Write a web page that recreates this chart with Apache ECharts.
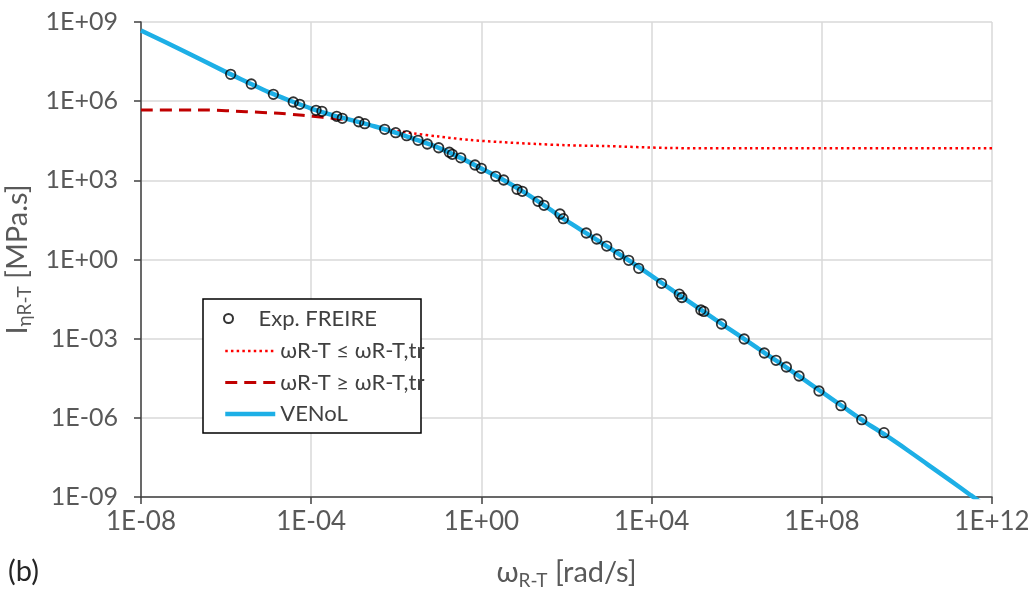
<!DOCTYPE html>
<html><head><meta charset="utf-8">
<script src="https://cdn.jsdelivr.net/npm/echarts@6/dist/echarts.min.js"></script>
<style>html,body{margin:0;padding:0;background:#fff}#c{width:1028px;height:589px}</style>
</head><body><div id="c"></div>
<script>
// Tick labels
const xTickLabels = ['1E-08','1E-04','1E+00','1E+04','1E+08','1E+12'];
const yTickLabels = ['1E-09','1E-06','1E-03','1E+00','1E+03','1E+06','1E+09'];

// Experimental points (Exp. FREIRE)
const expOmega = [1.28e-6,3.91e-6,1.29e-5,3.79e-5,5.37e-5,1.30e-4,1.79e-4,3.97e-4,5.38e-4,1.31e-3,1.81e-3,5.33e-3,9.68e-3,1.75e-2,3.24e-2,5.36e-2,9.91e-2,0.176,0.207,0.327,0.708,0.995,2.17,3.34,6.87,9.14,21.4,29.6,70.3,84.1,292,513,881,1690,2900,4980,1.71e4,4.48e4,5.15e4,1.44e5,1.69e5,4.40e5,1.50e6,4.46e6,8.39e6,1.47e7,2.92e7,8.59e7,2.82e8,8.67e8,2.90e9];
const expEta = [1.04e7,4.47e6,1.82e6,9.29e5,7.60e5,4.50e5,4.13e5,2.67e5,2.24e5,1.66e5,1.40e5,8.57e4,6.38e4,4.91e4,3.28e4,2.38e4,1.72e4,1.16e4,9.68e3,7.13e3,3.81e3,2.85e3,1.42e3,1.03e3,457,384,160,113,53.0,35.2,10.1,5.98,3.24,1.52,0.931,0.463,0.125,0.0484,0.0363,0.0122,0.0108,3.60e-3,9.70e-4,2.86e-4,1.51e-4,8.43e-5,3.85e-5,1.04e-5,2.88e-6,8.49e-7,2.74e-7];

// VENoL model curve
const venolOmega = [1e-8,1e-7,1e-6,3.16e-6,1e-5,3.16e-5,1e-4,3.16e-4,1e-3,3.16e-3,1e-2,3.16e-2,0.1,0.316,1,3.16,10,31.6,100,316,1e3,3160,1e4,3.16e4,1e5,3.16e5,1e6,3.16e6,1e7,3.16e7,1e8,3.16e8,1e9,3.16e9,1e10,3.16e10,1e11,3.16e11,1e12];
const venolEta = [4.79e8,7.94e7,1.26e7,5.25e6,2.19e6,1.05e6,5.25e5,2.95e5,1.82e5,1.10e5,6.31e4,3.31e4,1.70e4,7.24e3,2.82e3,1.07e3,355,105,29.5,9.12,2.82,0.851,0.240,0.0661,0.0186,5.25e-3,1.51e-3,4.27e-4,1.23e-4,3.47e-5,9.55e-6,2.63e-6,7.24e-7,2.19e-7,6.17e-8,1.66e-8,4.47e-9,1.17e-9,3.16e-10];

// ωR-T ≥ ωR-T,tr (dashed)
const lowOmega = [1e-8,3.39e-7,2.95e-6,1.74e-5,6.31e-5,1.86e-4,5.89e-4];
const lowEta = [4.63e5,4.63e5,4.00e5,3.47e5,2.91e5,2.44e5,2.05e5];

// ωR-T ≤ ωR-T,tr (dotted)
const highOmega = [3.16e-3,1e-2,2.51e-2,0.1,0.537,2.75,20,100,741,2.69e4,2e6,1e12];
const highEta = [1.10e5,7.59e4,6.03e4,4.57e4,3.37e4,2.83e4,2.38e4,2.14e4,2.0e4,1.68e4,1.63e4,1.63e4];

const seriesNames = ['Exp. FREIRE','ωR-T ≤ ωR-T,tr','ωR-T ≥ ωR-T,tr','VENoL'];

const zip = (a, b) => a.map((v, i) => [v, b[i]]);
const FONT = 'Lato';
const labelColor = '#595959';

const chart = echarts.init(document.getElementById('c'), null, {renderer: 'canvas'});
chart.setOption({
  backgroundColor: '#fff',
  animation: false,
  textStyle: {fontFamily: FONT},
  grid: {left: 141, right: 36, top: 22, bottom: 92, containLabel: false, outerBoundsMode: 'none'},
  xAxis: {
    type: 'log', logBase: 10000, min: 1e-8, max: 1e12,
    name: 'ω{sub|R-T} [rad/s]',
    nameLocation: 'middle', nameGap: 58,
    nameTextStyle: {color: labelColor, fontSize: 29, fontFamily: FONT,
      rich: {sub: {fontSize: 19, color: labelColor, fontFamily: FONT, padding: [16, 0, 0, 0]}}},
    axisLine: {lineStyle: {color: '#404040', width: 1.5}},
    axisTick: {show: true, length: 7, inside: false, lineStyle: {color: '#404040', width: 1.5}},
    splitLine: {show: true, lineStyle: {color: '#d9d9d9', width: 1.5}},
    minorTick: {show: false},
    axisLabel: {color: labelColor, fontSize: 26, fontFamily: FONT, margin: 12,
      formatter: v => xTickLabels[Math.round((Math.log10(v) + 8) / 4)]}
  },
  yAxis: {
    type: 'log', logBase: 1000, min: 1e-9, max: 1e9,
    name: 'I{sub|ηR-T} [MPa.s]',
    nameLocation: 'middle', nameGap: 98,
    nameTextStyle: {color: labelColor, fontSize: 29, fontFamily: FONT,
      rich: {sub: {fontSize: 19, color: labelColor, fontFamily: FONT, padding: [16, 0, 0, 0]}}},
    axisLine: {show: true, lineStyle: {color: '#404040', width: 1.5}},
    axisTick: {show: true, length: 7, inside: false, lineStyle: {color: '#404040', width: 1.5}},
    splitLine: {show: true, lineStyle: {color: '#d9d9d9', width: 1.5}},
    axisLabel: {color: labelColor, fontSize: 25, fontFamily: FONT, margin: 23,
      formatter: v => yTickLabels[Math.round((Math.log10(v) + 9) / 3)]}
  },
  legend: [
    {
      data: [seriesNames[0]], left: 218, top: 301, orient: 'vertical',
      itemWidth: 50, itemHeight: 9, itemGap: 0, z: 20,
      textStyle: {color: '#404040', fontSize: 22, fontFamily: FONT, lineHeight: 25},
      selectedMode: false
    },
    {
      data: seriesNames.slice(1), left: 218, top: 333.5, orient: 'vertical',
      itemWidth: 50, itemHeight: 14, itemGap: 6.5, z: 20,
      itemStyle: {opacity: 0},
      lineStyle: {width: 'inherit'},
      textStyle: {color: '#404040', fontSize: 22, fontFamily: FONT, lineHeight: 25},
      selectedMode: false
    }
  ],
  graphic: [
    {type: 'rect', z: 10, shape: {x: 203, y: 299, width: 218, height: 134},
     style: {fill: '#fff', stroke: '#000', lineWidth: 1.5}},
    {type: 'text', left: 8, top: 557, z: 10,
     style: {text: '(b)', fontSize: 29, fontFamily: FONT, fill: '#262626'}}
  ],
  series: [
    {
      name: seriesNames[1], type: 'line', data: zip(highOmega, highEta),
      symbol: 'none', smooth: 0.3, z: 2,
      lineStyle: {color: '#ff0000', width: 2.5, type: [2.5, 3.2]},
      itemStyle: {color: '#ff0000'}
    },
    {
      name: seriesNames[2], type: 'line', data: zip(lowOmega, lowEta),
      symbol: 'none', smooth: 0.3, z: 3,
      lineStyle: {color: '#c00000', width: 3, type: [12, 7]},
      itemStyle: {color: '#c00000'}
    },
    {
      name: seriesNames[3], type: 'line', data: zip(venolOmega, venolEta),
      symbol: 'none', smooth: 0.3, z: 4,
      lineStyle: {color: '#1dafe6', width: 4.5},
      itemStyle: {color: '#1dafe6'}
    },
    {
      name: seriesNames[0], type: 'scatter', data: zip(expOmega, expEta),
      symbol: 'circle', symbolSize: 9.5, z: 5,
      itemStyle: {color: 'rgba(0,0,0,0)', borderColor: '#000', borderWidth: 1.8}
    }
  ]
});
</script></body></html>
